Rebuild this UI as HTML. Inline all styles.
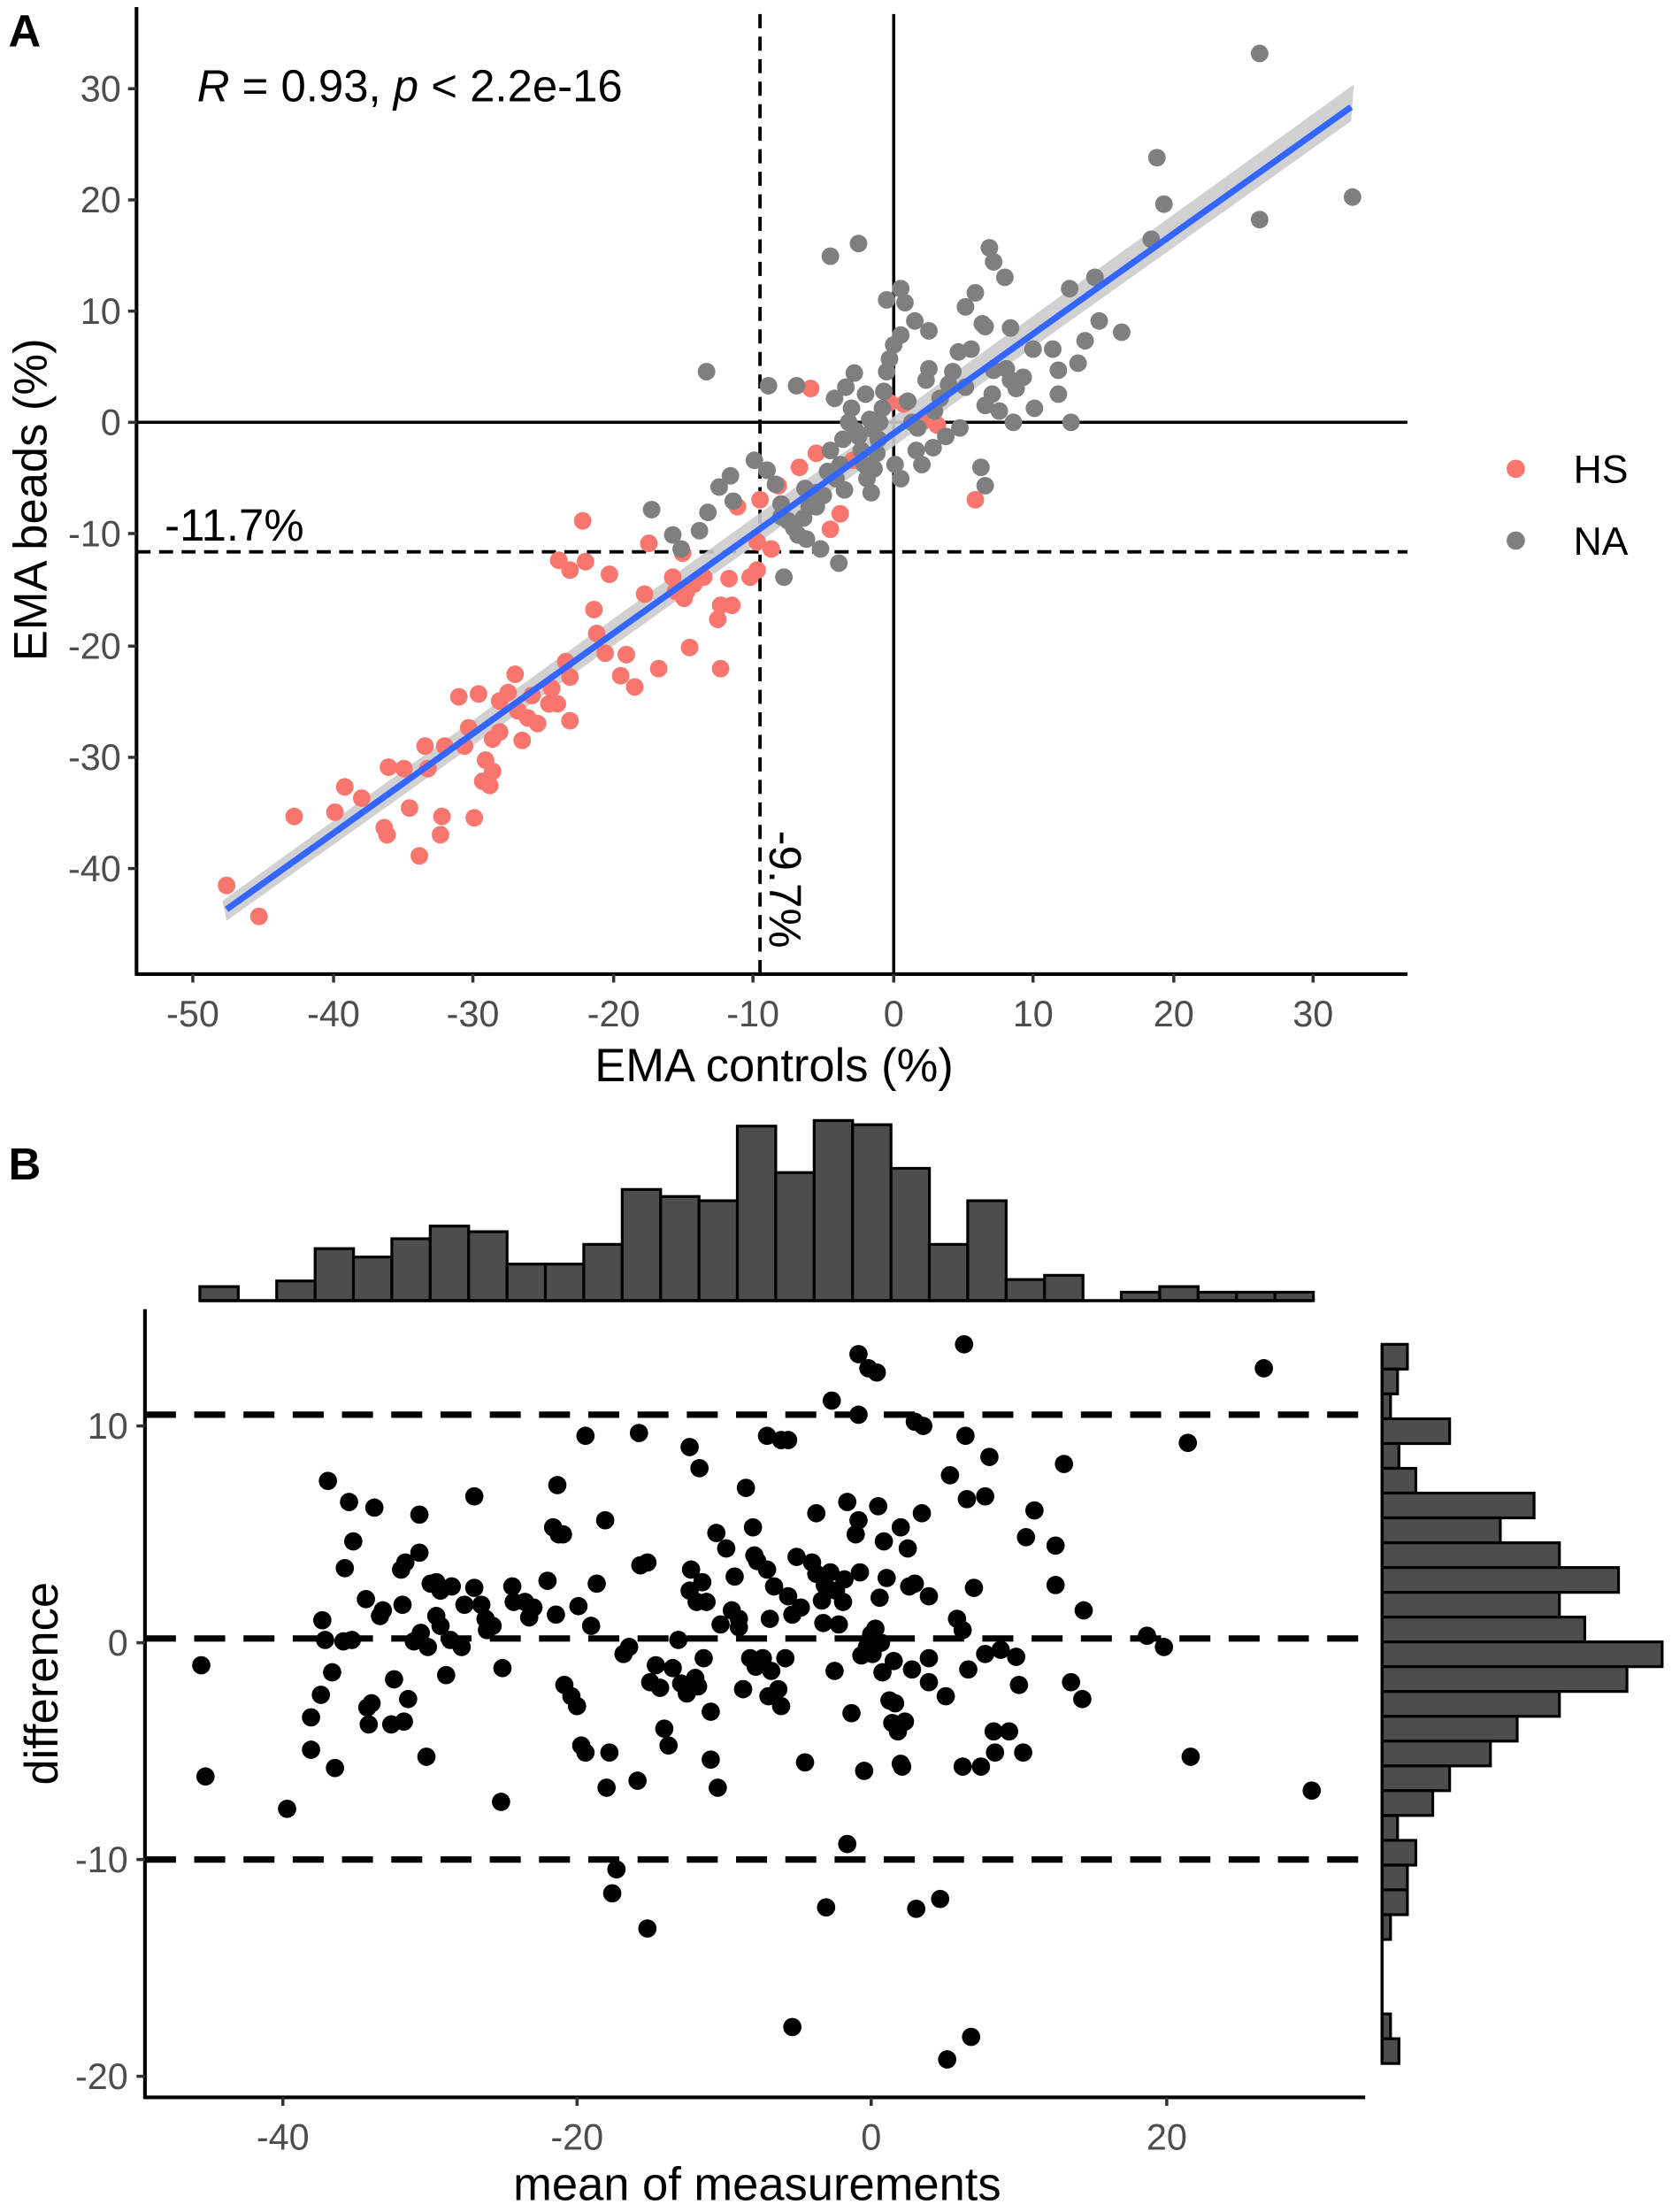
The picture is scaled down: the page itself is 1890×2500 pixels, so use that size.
<!DOCTYPE html>
<html><head><meta charset="utf-8"><style>html,body{margin:0;padding:0;background:#fff}svg{display:block}text{font-family:"Liberation Sans",Arial,sans-serif}</style></head><body>
<svg width="1890" height="2500" viewBox="0 0 1188 1571.4" xmlns="http://www.w3.org/2000/svg">
<rect width="1188" height="1571.4" fill="#fff"/>
<text x="6" y="33" font-size="32" font-weight="bold">A</text>
<text x="6" y="838" font-size="32" font-weight="bold">B</text>
<!-- Panel A -->
<line x1="540" y1="10" x2="540" y2="692" stroke="#000" stroke-width="2.4" stroke-dasharray="10,6"/>
<line x1="97" y1="392" x2="1000" y2="392" stroke="#000" stroke-width="2.4" stroke-dasharray="10,6"/>
<line x1="635" y1="10" x2="635" y2="692" stroke="#000" stroke-width="2.2"/>
<line x1="97" y1="300" x2="1000" y2="300" stroke="#000" stroke-width="2.2"/>
<polygon points="158,640 161,654 960,86 962,60" fill="#cccccc" opacity="0.9"/>
<path stroke="#F8766D" stroke-width="12.5" stroke-linecap="round" fill="none" d="M161 629h0M184 651h0M209 580h0M238 577h0M245 559h0M257 567h0M273 588h0M275 593h0M276 545h0M287 546h0M291 574h0M298 608h0M302 530h0M304 546h0M313 593h0M314 580h0M316 530h0M326 495h0M330 530h0M333 517h0M337 581h0M340 493h0M343 555h0M345 540h0M350 548h0M350 525h0M355 520h0M348 558h0M355 498h0M361 492h0M366 479h0M368 505h0M371 526h0M375 510h0M378 494h0M382 514h0M390 500h0M392 489h0M396 500h0M405 512h0M402 470h0M405 481h0M397 398h0M405 405h0M414 370h0M416 399h0M422 433h0M424 450h0M433 408h0M430 464h0M441 480h0M445 465h0M451 488h0M461 386h0M458 422h0M468 475h0M478 410h0M480 420h0M486 425h0M490 460h0M488 420h0M493 415h0M500 410h0M510 440h0M512 475h0M512 430h0M520 430h0M524 360h0M538 385h0M538 405h0M540 355h0M548 390h0M553 345h0M568 332h0M576 276h0M580 322h0M590 376h0M597 365h0M606 327h0M632 286h0M642 287h0M655 300h0M666 302h0M693 355h0M518 411h0M533 410h0M485 393h0"/>
<path stroke="#7F7F7F" stroke-width="12.5" stroke-linecap="round" fill="none" d="M502 264h0M546 274h0M566 274h0M463 362h0M478 380h0M484 390h0M497 377h0M503 364h0M511 346h0M519 338h0M521 356h0M536 327h0M545 334h0M551 344h0M555 358h0M557 410h0M564 375h0M567 380h0M571 368h0M575 360h0M580 350h0M585 352h0M588 335h0M590 320h0M594 340h0M597 330h0M599 312h0M603 300h0M605 290h0M608 306h0M610 310h0M612 320h0M614 330h0M616 340h0M619 350h0M621 333h0M623 322h0M625 300h0M627 290h0M628 278h0M630 264h0M632 255h0M635 245h0M640 238h0M643 215h0M645 285h0M648 300h0M651 320h0M655 330h0M658 270h0M660 262h0M664 292h0M668 283h0M672 310h0M674 273h0M681 250h0M686 218h0M690 248h0M693 208h0M698 230h0M700 232h0M706 263h0M710 292h0M715 262h0M714 197h0M718 270h0M722 276h0M727 268h0M703 176h0M706 186h0M718 233h0M734 248h0M748 248h0M752 263h0M760 205h0M766 258h0M771 242h0M778 197h0M781 228h0M797 236h0M818 170h0M822 112h0M827 145h0M895 156h0M895 38h0M961 140h0M590 182h0M610 173h0M630 213h0M640 205h0M650 228h0M660 235h0M677 264h0M686 275h0M700 288h0M705 280h0M593 283h0M601 275h0M607 265h0M615 280h0M618 298h0M620 305h0M624 312h0M636 330h0M640 340h0M600 348h0M596 400h0M583 390h0M573 383h0M560 370h0M555 367h0M652 304h0M663 318h0M682 304h0M697 332h0M700 345h0M720 300h0M735 290h0M752 280h0M761 300h0M580 360h0M572 347h0"/>
<line x1="161" y1="646" x2="960" y2="76" stroke="#3366FF" stroke-width="4.5"/>
<text x="140" y="72" font-size="32"><tspan font-style="italic">R</tspan> = 0.93, <tspan font-style="italic">p</tspan> &lt; 2.2e-16</text>
<text x="117" y="384" font-size="32">-11.7%</text>
<text transform="translate(547,590) rotate(90)" font-size="32">-9.7%</text>
<line x1="97" y1="5" x2="97" y2="693" stroke="#000" stroke-width="2.6"/>
<line x1="96" y1="692" x2="1000" y2="692" stroke="#000" stroke-width="2.6"/>
<g stroke="#333" stroke-width="2.2">
<line x1="91" y1="63" x2="97" y2="63"/><line x1="91" y1="142" x2="97" y2="142"/><line x1="91" y1="221" x2="97" y2="221"/><line x1="91" y1="300" x2="97" y2="300"/><line x1="91" y1="379" x2="97" y2="379"/><line x1="91" y1="459" x2="97" y2="459"/><line x1="91" y1="538" x2="97" y2="538"/><line x1="91" y1="617" x2="97" y2="617"/>
<line x1="137" y1="692" x2="137" y2="698"/><line x1="237" y1="692" x2="237" y2="698"/><line x1="336" y1="692" x2="336" y2="698"/><line x1="436" y1="692" x2="436" y2="698"/><line x1="535" y1="692" x2="535" y2="698"/><line x1="635" y1="692" x2="635" y2="698"/><line x1="734" y1="692" x2="734" y2="698"/><line x1="834" y1="692" x2="834" y2="698"/><line x1="933" y1="692" x2="933" y2="698"/>
</g>
<g font-size="26" fill="#4D4D4D" text-anchor="end">
<text x="86" y="72">30</text><text x="86" y="151">20</text><text x="86" y="230">10</text><text x="86" y="309">0</text><text x="86" y="388">-10</text><text x="86" y="468">-20</text><text x="86" y="547">-30</text><text x="86" y="626">-40</text>
</g>
<g font-size="26" fill="#4D4D4D" text-anchor="middle">
<text x="137" y="729">-50</text><text x="237" y="729">-40</text><text x="336" y="729">-30</text><text x="436" y="729">-20</text><text x="535" y="729">-10</text><text x="635" y="729">0</text><text x="734" y="729">10</text><text x="834" y="729">20</text><text x="933" y="729">30</text>
</g>
<text x="550" y="768" font-size="33" text-anchor="middle">EMA controls (%)</text>
<text transform="translate(33,355) rotate(-90)" font-size="33" text-anchor="middle">EMA beads (%)</text>
<circle cx="1077" cy="333" r="6.5" fill="#F8766D"/><text x="1118" y="343" font-size="28">HS</text>
<circle cx="1077" cy="384" r="6.5" fill="#7F7F7F"/><text x="1118" y="394" font-size="28">NA</text>
<!-- Panel B top histogram -->
<g fill="#4D4D4D" stroke="#000" stroke-width="2">
<rect x="142" y="914" width="27.3" height="10"/><rect x="196.6" y="910" width="27.3" height="14"/><rect x="223.9" y="887" width="27.3" height="37"/><rect x="251.1" y="893" width="27.3" height="31"/><rect x="278.4" y="880" width="27.3" height="44"/><rect x="305.7" y="871" width="27.3" height="53"/><rect x="333" y="875" width="27.3" height="49"/><rect x="360.3" y="898" width="27.3" height="26"/><rect x="387.5" y="898" width="27.3" height="26"/><rect x="414.8" y="884" width="27.3" height="40"/><rect x="442.1" y="845" width="27.3" height="79"/><rect x="469.4" y="850" width="27.3" height="74"/><rect x="496.7" y="853" width="27.3" height="71"/><rect x="523.9" y="800" width="27.3" height="124"/><rect x="551.2" y="833" width="27.3" height="91"/><rect x="578.5" y="796" width="27.3" height="128"/><rect x="605.8" y="799" width="27.3" height="125"/><rect x="633.1" y="830" width="27.3" height="94"/><rect x="660.3" y="884" width="27.3" height="40"/><rect x="687.6" y="853" width="27.3" height="71"/><rect x="714.9" y="909" width="27.3" height="15"/><rect x="742.2" y="906" width="27.3" height="18"/><rect x="796.7" y="918" width="27.3" height="6"/><rect x="824" y="914" width="27.3" height="10"/><rect x="851.3" y="918" width="27.3" height="6"/><rect x="878.6" y="918" width="27.3" height="6"/><rect x="905.9" y="918" width="27.3" height="6"/>
</g>
<line x1="142" y1="924" x2="933" y2="924" stroke="#000" stroke-width="2.2"/>
<!-- right histogram -->
<g fill="#4D4D4D" stroke="#000" stroke-width="2">
<rect x="982" y="955" width="18" height="17.6"/><rect x="982" y="972.6" width="11" height="17.6"/><rect x="982" y="990.2" width="6" height="17.6"/><rect x="982" y="1007.9" width="48" height="17.6"/><rect x="982" y="1025.5" width="12" height="17.6"/><rect x="982" y="1043.1" width="24" height="17.6"/><rect x="982" y="1060.7" width="108" height="17.6"/><rect x="982" y="1078.3" width="84" height="17.6"/><rect x="982" y="1096" width="126" height="17.6"/><rect x="982" y="1113.6" width="168" height="17.6"/><rect x="982" y="1131.2" width="126" height="17.6"/><rect x="982" y="1148.8" width="144" height="17.6"/><rect x="982" y="1166.4" width="199" height="17.6"/><rect x="982" y="1184" width="174" height="17.6"/><rect x="982" y="1201.7" width="126" height="17.6"/><rect x="982" y="1219.3" width="96" height="17.6"/><rect x="982" y="1236.9" width="77" height="17.6"/><rect x="982" y="1254.5" width="48" height="17.6"/><rect x="982" y="1272.1" width="36" height="17.6"/><rect x="982" y="1289.8" width="11" height="17.6"/><rect x="982" y="1307.4" width="24" height="17.6"/><rect x="982" y="1325" width="18" height="17.6"/><rect x="982" y="1342.6" width="18" height="17.6"/><rect x="982" y="1360.2" width="6" height="17.6"/><rect x="982" y="1430.7" width="6" height="17.6"/><rect x="982" y="1448.3" width="12" height="17.6"/>
</g>
<line x1="982" y1="955" x2="982" y2="1466" stroke="#000" stroke-width="2.2"/>
<!-- B dashed -->
<g stroke="#000" stroke-width="4.5" stroke-dasharray="22,13">
<line x1="103" y1="1005" x2="970" y2="1005"/><line x1="103" y1="1164" x2="970" y2="1164"/><line x1="103" y1="1321" x2="970" y2="1321"/>
</g>
<path stroke="#000" stroke-width="13" stroke-linecap="round" fill="none" d="M143 1183h0M146 1262h0M204 1285h0M221 1220h0M221 1243h0M228 1204h0M229 1151h0M231 1165h0M233 1052h0M236 1188h0M238 1256h0M245 1114h0M244 1166h0M248 1067h0M250 1165h0M251 1095h0M260 1136h0M261 1213h0M262 1225h0M266 1071h0M264 1210h0M270 1148h0M272 1144h0M278 1225h0M280 1193h0M285 1115h0M288 1110h0M286 1140h0M287 1223h0M290 1207h0M294 1166h0M298 1103h0M299 1160h0M298 1076h0M303 1248h0M304 1170h0M306 1125h0M310 1124h0M310 1148h0M313 1130h0M313 1155h0M317 1190h0M321 1127h0M320 1165h0M328 1170h0M337 1063h0M342 1140h0M345 1150h0M337 1128h0M346 1158h0M350 1155h0M356 1280h0M357 1185h0M365 1138h0M364 1127h0M373 1138h0M376 1149h0M379 1142h0M393 1085h0M389 1123h0M395 1147h0M396 1055h0M397 1090h0M401 1197h0M406 1205h0M410 1212h0M411 1141h0M413 1240h0M416 1245h0M416 1020h0M424 1125h0M431 1270h0M433 1245h0M435 1345h0M438 1328h0M443 1175h0M447 1170h0M453 1265h0M455 1112h0M460 1370h0M462 1195h0M466 1183h0M469 1199h0M472 1228h0M475 1240h0M478 1185h0M482 1165h0M484 1196h0M488 1203h0M490 1130h0M491 1115h0M494 1192h0M495 1138h0M496 1198h0M497 1043h0M499 1124h0M502 1138h0M505 1216h0M505 1250h0M509 1089h0M510 1270h0M512 1154h0M516 1100h0M520 1144h0M522 1120h0M525 1156h0M528 1200h0M530 1057h0M533 1178h0M535 1085h0M536 1105h0M537 1184h0M538 1109h0M542 1178h0M545 1115h0M546 1205h0M547 1150h0M545 1020h0M548 1187h0M550 1127h0M553 1200h0M555 1212h0M558 1178h0M560 1134h0M563 1147h0M566 1106h0M569 1142h0M572 1252h0M577 1110h0M580 1118h0M584 1137h0M586 1126h0M587 1355h0M590 1117h0M593 1187h0M594 1130h0M596 1154h0M599 1138h0M600 1122h0M602 1310h0M605 1217h0M608 1090h0M610 1005h0M611 1117h0M612 1176h0M614 1258h0M616 1170h0M619 1161h0M620 1175h0M622 1157h0M624 1070h0M626 1167h0M627 1188h0M630 1121h0M632 1208h0M634 1224h0M636 1210h0M638 1230h0M640 1253h0M641 1255h0M643 1223h0M645 1100h0M646 1127h0M648 1186h0M650 1125h0M651 1356h0M660 1178h0M668 1349h0M684 1158h0M684 1255h0M686 1020h0M687 1065h0M688 1186h0M692 1128h0M697 1255h0M703 1035h0M706 1230h0M707 1245h0M711 1172h0M717 1230h0M722 1177h0M724 1197h0M727 1245h0M729 1092h0M750 1098h0M761 1195h0M770 1144h0M769 1207h0M756 1040h0M815 1162h0M827 1170h0M844 1025h0M846 1248h0M898 972h0M932 1272h0M610 962h0M617 972h0M623 975h0M685 955h0M591 995h0M490 1028h0M560 1023h0M555 1023h0M454 1018h0M650 1010h0M656 1013h0M430 1080h0M602 1067h0M580 1075h0M675 1048h0M640 1085h0M610 1080h0M700 1063h0M660 1134h0M628 1095h0M680 1150h0M700 1175h0M750 1126h0M735 1073h0M655 1075h0M460 1110h0M660 1195h0M672 1205h0M500 1178h0M525 1150h0M330 1140h0M400 1090h0M420 1155h0M585 1153h0M625 1135h0M635 1180h0M563 1440h0M690 1447h0M673 1463h0"/>
<line x1="103" y1="930" x2="103" y2="1491" stroke="#000" stroke-width="2.6"/>
<line x1="102" y1="1490" x2="970" y2="1490" stroke="#000" stroke-width="2.6"/>
<g stroke="#333" stroke-width="2.2">
<line x1="97" y1="1013" x2="103" y2="1013"/><line x1="97" y1="1167" x2="103" y2="1167"/><line x1="97" y1="1321" x2="103" y2="1321"/><line x1="97" y1="1475" x2="103" y2="1475"/>
<line x1="201" y1="1490" x2="201" y2="1496"/><line x1="410" y1="1490" x2="410" y2="1496"/><line x1="619" y1="1490" x2="619" y2="1496"/><line x1="829" y1="1490" x2="829" y2="1496"/>
</g>
<g font-size="26" fill="#4D4D4D" text-anchor="end">
<text x="91" y="1022">10</text><text x="91" y="1176">0</text><text x="91" y="1330">-10</text><text x="91" y="1484">-20</text>
</g>
<g font-size="26" fill="#4D4D4D" text-anchor="middle">
<text x="201" y="1527">-40</text><text x="410" y="1527">-20</text><text x="619" y="1527">0</text><text x="829" y="1527">20</text>
</g>
<text x="538" y="1563" font-size="33" text-anchor="middle">mean of measurements</text>
<text transform="translate(41,1196) rotate(-90)" font-size="33" text-anchor="middle">difference</text>
</svg>
</body></html>
